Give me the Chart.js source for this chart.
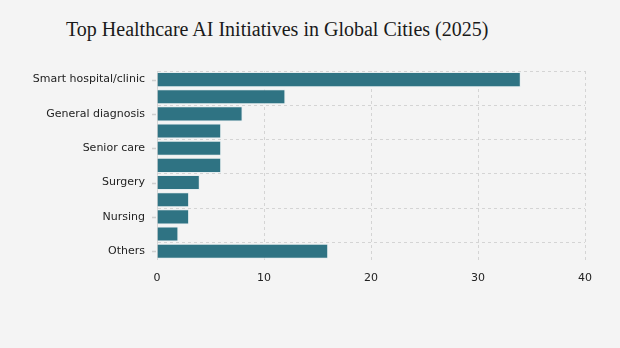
<!DOCTYPE html>
<html><head><meta charset="utf-8">
<script src="https://cdn.jsdelivr.net/npm/chart.js@4/dist/chart.umd.min.js"></script>
<style>
html,body{margin:0;padding:0;background:#f4f4f4;}
#wrap{position:relative;width:620px;height:348px;}
#title{position:absolute;left:66px;top:18px;margin:0;font-family:"Liberation Serif",serif;font-weight:normal;font-size:20px;color:#1a1a1a;white-space:nowrap;}
canvas{position:absolute;left:0;top:0;}
</style></head>
<body><div id="wrap"><h1 id="title">Top Healthcare AI Initiatives in Global Cities (2025)</h1><canvas id="c" width="620" height="348"></canvas></div>
<script>
const categories = ["Smart hospital/clinic","Medical imaging","General diagnosis","Drug discovery","Senior care","Mental health","Surgery","Telemedicine","Nursing","Rehabilitation","Others"];
const initiatives = [34,12,8,6,6,6,4,3,3,2,16];
const xTicks = [0,10,20,30,40];

const gridColor = "#d4d4d4";
const shown = i => i % 2 === 0;
const tickMarks = {id:"tickMarks",afterDraw(c){
  const s=c.scales.y, ctx=c.ctx;
  ctx.save();ctx.strokeStyle="#cfcfcf";ctx.lineWidth=1.5;
  s.ticks.forEach((t,i)=>{ if(!shown(i)) return; const y=Math.round(s.getPixelForTick(i))+0.5;
    ctx.beginPath();ctx.moveTo(s.right-5,y);ctx.lineTo(s.right-1,y);ctx.stroke();});
  ctx.restore();}};
new Chart(document.getElementById("c"),{
  type:"bar",
  data:{labels:categories,datasets:[{data:initiatives,backgroundColor:"#2f7383",borderColor:"#e6eef0",borderWidth:1,categoryPercentage:1,barPercentage:0.88}]},
  options:{
    indexAxis:"y",responsive:false,animation:false,
    layout:{padding:{top:71,right:35,bottom:51,left:0}},
    plugins:{legend:{display:false},tooltip:{enabled:false}},
    scales:{
      x:{min:xTicks[0],max:xTicks[xTicks.length-1],
        afterBuildTicks:s=>{s.ticks=xTicks.map(v=>({value:v}));},
        grid:{color:gridColor,drawTicks:false,lineWidth:1},
        border:{display:false,dash:[3,3]},
        ticks:{padding:12,color:"#222",font:{family:"DejaVu Sans",size:11}}},
      y:{afterFit:s=>{s.width=157;},
        grid:{offset:true,color:ctx=>shown(ctx.index)?gridColor:"rgba(0,0,0,0)",drawTicks:false,lineWidth:1},
        border:{display:true,color:gridColor,dash:[3,3]},
        ticks:{padding:12,autoSkip:false,color:"#222",font:{family:"DejaVu Sans",size:11},
          callback:function(v,i){return shown(i)?this.getLabelForValue(v):"";}}}
    }
  },
  plugins:[tickMarks]
});
</script></body></html>
